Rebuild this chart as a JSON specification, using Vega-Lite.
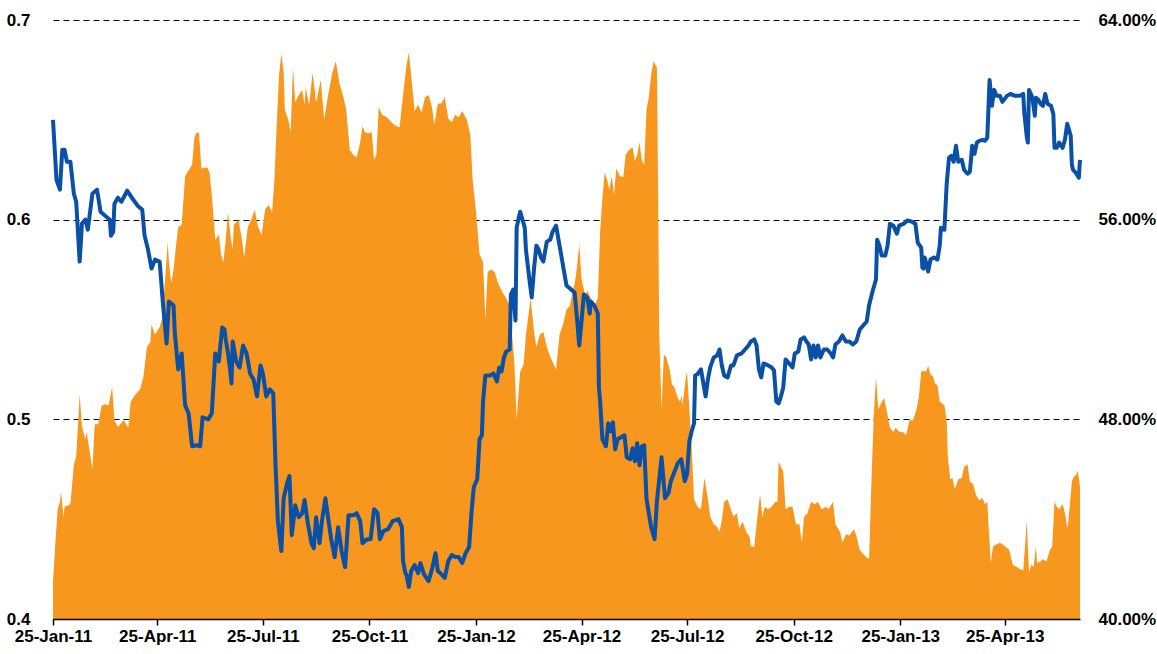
{
"$schema":"https://vega.github.io/schema/vega-lite/v6.json",
"width":1027,"height":599,
"autosize":{"type":"none"},
"padding":{"left":53,"top":20,"right":77,"bottom":35},
"background":"white",
"config":{"view":{"stroke":null},"font":"Liberation Sans","axis":{"labelFont":"Liberation Sans","labelFontSize":17,"labelFontWeight":"bold","labelColor":"#000","title":null}},
"datasets":{
"blue":[
{"date":"2011-01-25","ratio":0.650},{"date":"2011-01-28","ratio":0.620},{"date":"2011-01-31","ratio":0.615},{"date":"2011-02-02","ratio":0.635},{"date":"2011-02-04","ratio":0.635},{"date":"2011-02-06","ratio":0.629},{"date":"2011-02-09","ratio":0.629},{"date":"2011-02-12","ratio":0.613},{"date":"2011-02-14","ratio":0.609},{"date":"2011-02-17","ratio":0.579},{"date":"2011-02-19","ratio":0.598},{"date":"2011-02-22","ratio":0.600},{"date":"2011-02-24","ratio":0.595},{"date":"2011-02-28","ratio":0.613},
{"date":"2011-03-04","ratio":0.615},{"date":"2011-03-07","ratio":0.604},{"date":"2011-03-11","ratio":0.602},{"date":"2011-03-15","ratio":0.600},{"date":"2011-03-16","ratio":0.592},{"date":"2011-03-18","ratio":0.594},{"date":"2011-03-19","ratio":0.608},{"date":"2011-03-22","ratio":0.611},{"date":"2011-03-25","ratio":0.609},{"date":"2011-03-30","ratio":0.6145},
{"date":"2011-04-03","ratio":0.611},{"date":"2011-04-08","ratio":0.607},{"date":"2011-04-12","ratio":0.605},{"date":"2011-04-14","ratio":0.592},{"date":"2011-04-17","ratio":0.585},{"date":"2011-04-20","ratio":0.5755},{"date":"2011-04-23","ratio":0.580},{"date":"2011-04-27","ratio":0.579},{"date":"2011-04-30","ratio":0.557},
{"date":"2011-05-03","ratio":0.538},{"date":"2011-05-05","ratio":0.559},{"date":"2011-05-09","ratio":0.557},{"date":"2011-05-10","ratio":0.544},{"date":"2011-05-13","ratio":0.525},{"date":"2011-05-16","ratio":0.533},{"date":"2011-05-19","ratio":0.507},{"date":"2011-05-22","ratio":0.503},{"date":"2011-05-25","ratio":0.4865},{"date":"2011-05-29","ratio":0.487},
{"date":"2011-06-01","ratio":0.4865},{"date":"2011-06-03","ratio":0.501},{"date":"2011-06-08","ratio":0.500},{"date":"2011-06-11","ratio":0.503},{"date":"2011-06-14","ratio":0.533},{"date":"2011-06-17","ratio":0.529},{"date":"2011-06-20","ratio":0.546},{"date":"2011-06-22","ratio":0.545},{"date":"2011-06-23","ratio":0.540},{"date":"2011-06-25","ratio":0.533},{"date":"2011-06-27","ratio":0.524},{"date":"2011-06-28","ratio":0.518},{"date":"2011-06-29","ratio":0.539},
{"date":"2011-07-02","ratio":0.529},{"date":"2011-07-05","ratio":0.526},{"date":"2011-07-08","ratio":0.537},{"date":"2011-07-11","ratio":0.533},{"date":"2011-07-14","ratio":0.523},{"date":"2011-07-17","ratio":0.520},{"date":"2011-07-20","ratio":0.5115},{"date":"2011-07-23","ratio":0.527},{"date":"2011-07-25","ratio":0.523},{"date":"2011-07-28","ratio":0.5115},{"date":"2011-07-31","ratio":0.515},
{"date":"2011-08-03","ratio":0.513},{"date":"2011-08-05","ratio":0.477},{"date":"2011-08-07","ratio":0.449},{"date":"2011-08-10","ratio":0.434},{"date":"2011-08-12","ratio":0.4605},{"date":"2011-08-15","ratio":0.468},{"date":"2011-08-17","ratio":0.4716},{"date":"2011-08-19","ratio":0.442},{"date":"2011-08-22","ratio":0.457},{"date":"2011-08-25","ratio":0.451},{"date":"2011-08-28","ratio":0.453},{"date":"2011-08-30","ratio":0.4596},
{"date":"2011-09-02","ratio":0.4475},{"date":"2011-09-05","ratio":0.438},{"date":"2011-09-07","ratio":0.4355},{"date":"2011-09-09","ratio":0.451},{"date":"2011-09-12","ratio":0.438},{"date":"2011-09-14","ratio":0.449},{"date":"2011-09-17","ratio":0.4605},{"date":"2011-09-19","ratio":0.452},{"date":"2011-09-22","ratio":0.440},{"date":"2011-09-25","ratio":0.431},{"date":"2011-09-28","ratio":0.446},
{"date":"2011-10-01","ratio":0.434},{"date":"2011-10-04","ratio":0.426},{"date":"2011-10-07","ratio":0.452},{"date":"2011-10-11","ratio":0.452},{"date":"2011-10-14","ratio":0.453},{"date":"2011-10-17","ratio":0.449},{"date":"2011-10-19","ratio":0.438},{"date":"2011-10-23","ratio":0.440},{"date":"2011-10-26","ratio":0.440},{"date":"2011-10-29","ratio":0.455},
{"date":"2011-11-01","ratio":0.453},{"date":"2011-11-03","ratio":0.440},{"date":"2011-11-06","ratio":0.444},{"date":"2011-11-10","ratio":0.445},{"date":"2011-11-14","ratio":0.449},{"date":"2011-11-19","ratio":0.450},{"date":"2011-11-22","ratio":0.446},{"date":"2011-11-23","ratio":0.429},{"date":"2011-11-25","ratio":0.423},{"date":"2011-11-26","ratio":0.422},{"date":"2011-11-28","ratio":0.416},{"date":"2011-11-30","ratio":0.424},
{"date":"2011-12-03","ratio":0.427},{"date":"2011-12-06","ratio":0.423},{"date":"2011-12-08","ratio":0.428},{"date":"2011-12-11","ratio":0.4225},{"date":"2011-12-15","ratio":0.419},{"date":"2011-12-18","ratio":0.425},{"date":"2011-12-21","ratio":0.433},{"date":"2011-12-23","ratio":0.424},{"date":"2011-12-26","ratio":0.4225},{"date":"2011-12-29","ratio":0.4206},
{"date":"2012-01-01","ratio":0.429},{"date":"2012-01-04","ratio":0.432},{"date":"2012-01-07","ratio":0.431},{"date":"2012-01-10","ratio":0.431},{"date":"2012-01-13","ratio":0.428},{"date":"2012-01-16","ratio":0.433},{"date":"2012-01-19","ratio":0.436},{"date":"2012-01-21","ratio":0.453},{"date":"2012-01-23","ratio":0.466},{"date":"2012-01-26","ratio":0.470},{"date":"2012-01-28","ratio":0.490},{"date":"2012-01-30","ratio":0.492},{"date":"2012-01-31","ratio":0.509},
{"date":"2012-02-02","ratio":0.522},{"date":"2012-02-06","ratio":0.522},{"date":"2012-02-09","ratio":0.523},{"date":"2012-02-12","ratio":0.519},{"date":"2012-02-14","ratio":0.526},{"date":"2012-02-16","ratio":0.524},{"date":"2012-02-18","ratio":0.531},{"date":"2012-02-20","ratio":0.534},{"date":"2012-02-23","ratio":0.535},{"date":"2012-02-24","ratio":0.5625},{"date":"2012-02-26","ratio":0.565},{"date":"2012-02-28","ratio":0.5495},{"date":"2012-02-29","ratio":0.596},
{"date":"2012-03-03","ratio":0.604},{"date":"2012-03-05","ratio":0.600},{"date":"2012-03-07","ratio":0.596},{"date":"2012-03-08","ratio":0.585},{"date":"2012-03-11","ratio":0.570},{"date":"2012-03-13","ratio":0.561},{"date":"2012-03-15","ratio":0.5755},{"date":"2012-03-17","ratio":0.587},{"date":"2012-03-19","ratio":0.585},{"date":"2012-03-21","ratio":0.581},{"date":"2012-03-23","ratio":0.579},{"date":"2012-03-26","ratio":0.589},{"date":"2012-03-29","ratio":0.590},{"date":"2012-03-31","ratio":0.594},
{"date":"2012-04-03","ratio":0.597},{"date":"2012-04-06","ratio":0.587},{"date":"2012-04-09","ratio":0.577},{"date":"2012-04-12","ratio":0.567},{"date":"2012-04-16","ratio":0.565},{"date":"2012-04-19","ratio":0.5635},{"date":"2012-04-21","ratio":0.551},{"date":"2012-04-23","ratio":0.537},{"date":"2012-04-25","ratio":0.5495},{"date":"2012-04-27","ratio":0.5625},{"date":"2012-04-30","ratio":0.561},
{"date":"2012-05-02","ratio":0.553},{"date":"2012-05-03","ratio":0.559},{"date":"2012-05-06","ratio":0.557},{"date":"2012-05-09","ratio":0.553},{"date":"2012-05-10","ratio":0.516},{"date":"2012-05-11","ratio":0.509},{"date":"2012-05-13","ratio":0.490},{"date":"2012-05-16","ratio":0.4865},{"date":"2012-05-18","ratio":0.498},{"date":"2012-05-20","ratio":0.494},{"date":"2012-05-22","ratio":0.4985},{"date":"2012-05-24","ratio":0.485},{"date":"2012-05-26","ratio":0.490},{"date":"2012-05-29","ratio":0.491},
{"date":"2012-06-01","ratio":0.492},{"date":"2012-06-03","ratio":0.481},{"date":"2012-06-06","ratio":0.480},{"date":"2012-06-08","ratio":0.4855},{"date":"2012-06-10","ratio":0.479},{"date":"2012-06-12","ratio":0.488},{"date":"2012-06-14","ratio":0.477},{"date":"2012-06-16","ratio":0.4865},{"date":"2012-06-18","ratio":0.487},{"date":"2012-06-20","ratio":0.4605},{"date":"2012-06-22","ratio":0.453},{"date":"2012-06-24","ratio":0.446},{"date":"2012-06-27","ratio":0.440},{"date":"2012-06-29","ratio":0.459},
{"date":"2012-07-03","ratio":0.481},{"date":"2012-07-06","ratio":0.4605},{"date":"2012-07-09","ratio":0.463},{"date":"2012-07-11","ratio":0.469},{"date":"2012-07-14","ratio":0.4735},{"date":"2012-07-17","ratio":0.478},{"date":"2012-07-20","ratio":0.480},{"date":"2012-07-23","ratio":0.469},{"date":"2012-07-25","ratio":0.4726},{"date":"2012-07-27","ratio":0.489},{"date":"2012-07-29","ratio":0.494},{"date":"2012-07-31","ratio":0.498},
{"date":"2012-08-01","ratio":0.522},{"date":"2012-08-03","ratio":0.5226},{"date":"2012-08-06","ratio":0.525},{"date":"2012-08-10","ratio":0.5115},{"date":"2012-08-12","ratio":0.520},{"date":"2012-08-14","ratio":0.526},{"date":"2012-08-17","ratio":0.531},{"date":"2012-08-20","ratio":0.532},{"date":"2012-08-22","ratio":0.535},{"date":"2012-08-24","ratio":0.527},{"date":"2012-08-26","ratio":0.522},{"date":"2012-08-29","ratio":0.521},
{"date":"2012-09-01","ratio":0.527},{"date":"2012-09-03","ratio":0.527},{"date":"2012-09-06","ratio":0.532},{"date":"2012-09-10","ratio":0.533},{"date":"2012-09-13","ratio":0.535},{"date":"2012-09-16","ratio":0.537},{"date":"2012-09-18","ratio":0.539},{"date":"2012-09-21","ratio":0.540},{"date":"2012-09-23","ratio":0.537},{"date":"2012-09-25","ratio":0.525},{"date":"2012-09-27","ratio":0.521},{"date":"2012-09-29","ratio":0.528},
{"date":"2012-10-03","ratio":0.527},{"date":"2012-10-06","ratio":0.526},{"date":"2012-10-08","ratio":0.5245},{"date":"2012-10-10","ratio":0.509},{"date":"2012-10-12","ratio":0.508},{"date":"2012-10-14","ratio":0.5115},{"date":"2012-10-16","ratio":0.516},{"date":"2012-10-18","ratio":0.530},{"date":"2012-10-21","ratio":0.528},{"date":"2012-10-24","ratio":0.526},{"date":"2012-10-26","ratio":0.533},{"date":"2012-10-29","ratio":0.534},{"date":"2012-10-31","ratio":0.540},
{"date":"2012-11-03","ratio":0.541},{"date":"2012-11-05","ratio":0.539},{"date":"2012-11-07","ratio":0.5375},{"date":"2012-11-09","ratio":0.530},{"date":"2012-11-11","ratio":0.537},{"date":"2012-11-13","ratio":0.531},{"date":"2012-11-15","ratio":0.537},{"date":"2012-11-17","ratio":0.531},{"date":"2012-11-20","ratio":0.535},{"date":"2012-11-23","ratio":0.535},{"date":"2012-11-26","ratio":0.533},{"date":"2012-11-28","ratio":0.531},{"date":"2012-11-30","ratio":0.5375},
{"date":"2012-12-03","ratio":0.539},{"date":"2012-12-06","ratio":0.542},{"date":"2012-12-09","ratio":0.539},{"date":"2012-12-12","ratio":0.539},{"date":"2012-12-15","ratio":0.5375},{"date":"2012-12-18","ratio":0.539},{"date":"2012-12-21","ratio":0.545},{"date":"2012-12-24","ratio":0.547},{"date":"2012-12-27","ratio":0.549},{"date":"2012-12-29","ratio":0.557},
{"date":"2013-01-01","ratio":0.564},{"date":"2013-01-04","ratio":0.570},{"date":"2013-01-05","ratio":0.590},{"date":"2013-01-07","ratio":0.587},{"date":"2013-01-09","ratio":0.582},{"date":"2013-01-12","ratio":0.582},{"date":"2013-01-14","ratio":0.587},{"date":"2013-01-16","ratio":0.598},{"date":"2013-01-19","ratio":0.597},{"date":"2013-01-22","ratio":0.593},{"date":"2013-01-24","ratio":0.597},{"date":"2013-01-28","ratio":0.598},{"date":"2013-01-31","ratio":0.5996},
{"date":"2013-02-04","ratio":0.599},{"date":"2013-02-07","ratio":0.598},{"date":"2013-02-09","ratio":0.5885},{"date":"2013-02-12","ratio":0.586},{"date":"2013-02-13","ratio":0.576},{"date":"2013-02-14","ratio":0.5755},{"date":"2013-02-15","ratio":0.581},{"date":"2013-02-17","ratio":0.577},{"date":"2013-02-18","ratio":0.574},{"date":"2013-02-20","ratio":0.580},{"date":"2013-02-23","ratio":0.581},{"date":"2013-02-26","ratio":0.580},{"date":"2013-02-28","ratio":0.587},
{"date":"2013-03-01","ratio":0.596},{"date":"2013-03-04","ratio":0.595},{"date":"2013-03-06","ratio":0.618},{"date":"2013-03-08","ratio":0.631},{"date":"2013-03-10","ratio":0.632},{"date":"2013-03-12","ratio":0.629},{"date":"2013-03-14","ratio":0.637},{"date":"2013-03-16","ratio":0.629},{"date":"2013-03-19","ratio":0.630},{"date":"2013-03-21","ratio":0.625},{"date":"2013-03-24","ratio":0.623},{"date":"2013-03-26","ratio":0.624},{"date":"2013-03-28","ratio":0.637},{"date":"2013-03-30","ratio":0.633},
{"date":"2013-04-01","ratio":0.6386},{"date":"2013-04-03","ratio":0.6395},{"date":"2013-04-06","ratio":0.640},{"date":"2013-04-08","ratio":0.6395},{"date":"2013-04-10","ratio":0.641},{"date":"2013-04-12","ratio":0.670},{"date":"2013-04-14","ratio":0.657},{"date":"2013-04-16","ratio":0.665},{"date":"2013-04-18","ratio":0.662},{"date":"2013-04-21","ratio":0.662},{"date":"2013-04-23","ratio":0.659},{"date":"2013-04-27","ratio":0.662},{"date":"2013-04-30","ratio":0.663},
{"date":"2013-05-04","ratio":0.662},{"date":"2013-05-08","ratio":0.662},{"date":"2013-05-11","ratio":0.663},{"date":"2013-05-12","ratio":0.653},{"date":"2013-05-14","ratio":0.642},{"date":"2013-05-15","ratio":0.6386},{"date":"2013-05-16","ratio":0.665},{"date":"2013-05-19","ratio":0.661},{"date":"2013-05-21","ratio":0.652},{"date":"2013-05-22","ratio":0.661},{"date":"2013-05-24","ratio":0.660},{"date":"2013-05-26","ratio":0.658},{"date":"2013-05-28","ratio":0.657},{"date":"2013-05-30","ratio":0.663},
{"date":"2013-06-01","ratio":0.658},{"date":"2013-06-04","ratio":0.657},{"date":"2013-06-06","ratio":0.653},{"date":"2013-06-07","ratio":0.636},{"date":"2013-06-09","ratio":0.636},{"date":"2013-06-11","ratio":0.6386},{"date":"2013-06-14","ratio":0.636},{"date":"2013-06-16","ratio":0.640},{"date":"2013-06-18","ratio":0.648},{"date":"2013-06-21","ratio":0.642},{"date":"2013-06-22","ratio":0.6275},{"date":"2013-06-23","ratio":0.625},{"date":"2013-06-26","ratio":0.623},{"date":"2013-06-28","ratio":0.621},{"date":"2013-06-29","ratio":0.630}
],
"orange":[
{"date":"2011-01-25","pct":41.5},{"date":"2011-01-27","pct":43.0},{"date":"2011-01-29","pct":44.4},{"date":"2011-01-31","pct":44.7},{"date":"2011-02-01","pct":45.1},{"date":"2011-02-03","pct":44.1},{"date":"2011-02-04","pct":44.5},{"date":"2011-02-09","pct":44.6},{"date":"2011-02-12","pct":46.2},{"date":"2011-02-14","pct":46.5},{"date":"2011-02-17","pct":49.0},{"date":"2011-02-19","pct":47.7},{"date":"2011-02-22","pct":47.2},{"date":"2011-02-23","pct":47.5},{"date":"2011-02-25","pct":46.9},{"date":"2011-02-28","pct":46.0},
{"date":"2011-03-02","pct":47.8},{"date":"2011-03-05","pct":47.8},{"date":"2011-03-08","pct":48.55},{"date":"2011-03-11","pct":48.6},{"date":"2011-03-14","pct":48.55},{"date":"2011-03-17","pct":49.3},{"date":"2011-03-19","pct":47.96},{"date":"2011-03-22","pct":47.7},{"date":"2011-03-27","pct":47.96},{"date":"2011-03-31","pct":47.66},
{"date":"2011-04-02","pct":48.7},{"date":"2011-04-06","pct":49.0},{"date":"2011-04-10","pct":49.2},{"date":"2011-04-13","pct":49.7},{"date":"2011-04-16","pct":50.9},{"date":"2011-04-19","pct":51.1},{"date":"2011-04-20","pct":51.8},{"date":"2011-04-23","pct":51.4},{"date":"2011-04-27","pct":51.7},{"date":"2011-04-29","pct":52.0},
{"date":"2011-05-01","pct":53.15},{"date":"2011-05-04","pct":55.1},{"date":"2011-05-05","pct":54.3},{"date":"2011-05-07","pct":53.45},{"date":"2011-05-09","pct":54.0},{"date":"2011-05-11","pct":54.9},{"date":"2011-05-13","pct":55.7},{"date":"2011-05-16","pct":55.8},{"date":"2011-05-19","pct":57.75},{"date":"2011-05-22","pct":57.97},{"date":"2011-05-25","pct":58.2},{"date":"2011-05-27","pct":59.3},{"date":"2011-05-29","pct":59.5},{"date":"2011-05-31","pct":59.46},
{"date":"2011-06-02","pct":58.05},{"date":"2011-06-07","pct":58.1},{"date":"2011-06-09","pct":57.9},{"date":"2011-06-11","pct":57.0},{"date":"2011-06-14","pct":55.2},{"date":"2011-06-17","pct":55.4},{"date":"2011-06-19","pct":54.6},{"date":"2011-06-21","pct":54.3},{"date":"2011-06-23","pct":55.2},{"date":"2011-06-25","pct":56.3},{"date":"2011-06-27","pct":55.4},{"date":"2011-06-29","pct":54.8},{"date":"2011-06-30","pct":55.8},
{"date":"2011-07-04","pct":56.0},{"date":"2011-07-07","pct":55.2},{"date":"2011-07-09","pct":54.5},{"date":"2011-07-12","pct":55.7},{"date":"2011-07-15","pct":56.0},{"date":"2011-07-18","pct":56.4},{"date":"2011-07-21","pct":55.7},{"date":"2011-07-24","pct":55.4},{"date":"2011-07-27","pct":56.4},{"date":"2011-07-30","pct":56.6},
{"date":"2011-08-02","pct":56.3},{"date":"2011-08-04","pct":57.6},{"date":"2011-08-06","pct":59.8},{"date":"2011-08-08","pct":61.8},{"date":"2011-08-10","pct":62.65},{"date":"2011-08-12","pct":61.9},{"date":"2011-08-13","pct":60.4},{"date":"2011-08-16","pct":60.0},{"date":"2011-08-18","pct":59.5},{"date":"2011-08-20","pct":62.1},{"date":"2011-08-22","pct":60.7},{"date":"2011-08-25","pct":61.0},{"date":"2011-08-28","pct":61.2},{"date":"2011-08-30","pct":60.6},{"date":"2011-08-31","pct":61.3},
{"date":"2011-09-03","pct":60.6},{"date":"2011-09-06","pct":61.9},{"date":"2011-09-09","pct":60.7},{"date":"2011-09-13","pct":61.6},{"date":"2011-09-16","pct":60.0},{"date":"2011-09-19","pct":60.9},{"date":"2011-09-23","pct":61.9},{"date":"2011-09-26","pct":62.35},{"date":"2011-09-29","pct":61.5},
{"date":"2011-10-02","pct":61.0},{"date":"2011-10-05","pct":60.4},{"date":"2011-10-08","pct":58.8},{"date":"2011-10-11","pct":58.6},{"date":"2011-10-14","pct":58.5},{"date":"2011-10-17","pct":59.1},{"date":"2011-10-19","pct":59.75},{"date":"2011-10-21","pct":59.5},{"date":"2011-10-24","pct":59.46},{"date":"2011-10-27","pct":59.5},{"date":"2011-10-29","pct":58.4},{"date":"2011-10-31","pct":58.6},
{"date":"2011-11-02","pct":60.5},{"date":"2011-11-05","pct":60.2},{"date":"2011-11-09","pct":60.1},{"date":"2011-11-13","pct":59.9},{"date":"2011-11-17","pct":59.75},{"date":"2011-11-20","pct":59.7},{"date":"2011-11-23","pct":61.0},{"date":"2011-11-25","pct":61.8},{"date":"2011-11-26","pct":62.2},{"date":"2011-11-28","pct":62.7},{"date":"2011-11-30","pct":61.8},
{"date":"2011-12-03","pct":60.35},{"date":"2011-12-06","pct":60.6},{"date":"2011-12-09","pct":60.3},{"date":"2011-12-12","pct":60.9},{"date":"2011-12-15","pct":61.0},{"date":"2011-12-18","pct":60.5},{"date":"2011-12-20","pct":59.8},{"date":"2011-12-23","pct":60.65},{"date":"2011-12-26","pct":60.65},{"date":"2011-12-29","pct":60.9},
{"date":"2012-01-01","pct":60.05},{"date":"2012-01-04","pct":59.9},{"date":"2012-01-07","pct":60.2},{"date":"2012-01-10","pct":60.1},{"date":"2012-01-13","pct":60.35},{"date":"2012-01-17","pct":60.0},{"date":"2012-01-20","pct":59.4},{"date":"2012-01-22","pct":57.6},{"date":"2012-01-25","pct":56.3},{"date":"2012-01-28","pct":54.6},{"date":"2012-01-31","pct":54.3},
{"date":"2012-02-02","pct":52.0},{"date":"2012-02-04","pct":53.9},{"date":"2012-02-07","pct":54.0},{"date":"2012-02-10","pct":53.9},{"date":"2012-02-13","pct":53.45},{"date":"2012-02-16","pct":53.15},{"date":"2012-02-20","pct":52.85},{"date":"2012-02-23","pct":52.56},{"date":"2012-02-25","pct":51.4},{"date":"2012-02-27","pct":50.3},{"date":"2012-02-29","pct":48.0},
{"date":"2012-03-03","pct":49.9},{"date":"2012-03-06","pct":50.2},{"date":"2012-03-08","pct":51.4},{"date":"2012-03-12","pct":52.85},{"date":"2012-03-15","pct":51.5},{"date":"2012-03-17","pct":50.9},{"date":"2012-03-20","pct":51.4},{"date":"2012-03-23","pct":51.5},{"date":"2012-03-26","pct":50.9},{"date":"2012-03-29","pct":50.5},{"date":"2012-03-31","pct":50.3},
{"date":"2012-04-03","pct":50.0},{"date":"2012-04-06","pct":51.4},{"date":"2012-04-09","pct":51.8},{"date":"2012-04-12","pct":52.4},{"date":"2012-04-15","pct":52.56},{"date":"2012-04-18","pct":53.3},{"date":"2012-04-19","pct":53.4},{"date":"2012-04-21","pct":54.1},{"date":"2012-04-23","pct":55.0},{"date":"2012-04-25","pct":53.6},{"date":"2012-04-28","pct":53.0},{"date":"2012-04-30","pct":53.15},
{"date":"2012-05-03","pct":52.85},{"date":"2012-05-06","pct":52.56},{"date":"2012-05-09","pct":52.85},{"date":"2012-05-11","pct":55.5},{"date":"2012-05-13","pct":56.9},{"date":"2012-05-15","pct":57.9},{"date":"2012-05-17","pct":57.6},{"date":"2012-05-19","pct":57.2},{"date":"2012-05-21","pct":57.75},{"date":"2012-05-23","pct":57.0},{"date":"2012-05-25","pct":58.05},{"date":"2012-05-28","pct":57.75},{"date":"2012-05-31","pct":57.7},
{"date":"2012-06-02","pct":58.6},{"date":"2012-06-05","pct":58.8},{"date":"2012-06-08","pct":58.9},{"date":"2012-06-10","pct":58.35},{"date":"2012-06-12","pct":58.6},{"date":"2012-06-14","pct":59.1},{"date":"2012-06-16","pct":58.35},{"date":"2012-06-18","pct":58.2},{"date":"2012-06-20","pct":60.4},{"date":"2012-06-22","pct":60.9},{"date":"2012-06-24","pct":61.8},{"date":"2012-06-26","pct":62.35},{"date":"2012-06-29","pct":62.1},{"date":"2012-06-30","pct":57.3},
{"date":"2012-07-01","pct":51.4},{"date":"2012-07-03","pct":48.4},{"date":"2012-07-05","pct":50.6},{"date":"2012-07-07","pct":50.5},{"date":"2012-07-10","pct":50.0},{"date":"2012-07-12","pct":49.4},{"date":"2012-07-14","pct":49.3},{"date":"2012-07-17","pct":48.85},{"date":"2012-07-19","pct":48.7},{"date":"2012-07-20","pct":49.0},{"date":"2012-07-21","pct":48.55},{"date":"2012-07-24","pct":49.7},{"date":"2012-07-25","pct":49.9},{"date":"2012-07-27","pct":48.4},{"date":"2012-07-29","pct":46.9},{"date":"2012-07-31","pct":44.8},
{"date":"2012-08-03","pct":44.5},{"date":"2012-08-06","pct":44.4},{"date":"2012-08-09","pct":45.65},{"date":"2012-08-12","pct":44.8},{"date":"2012-08-14","pct":44.1},{"date":"2012-08-17","pct":43.8},{"date":"2012-08-20","pct":43.7},{"date":"2012-08-22","pct":43.5},{"date":"2012-08-24","pct":43.95},{"date":"2012-08-26","pct":44.7},{"date":"2012-08-29","pct":44.8},{"date":"2012-08-31","pct":44.5},
{"date":"2012-09-03","pct":44.1},{"date":"2012-09-06","pct":44.25},{"date":"2012-09-08","pct":43.65},{"date":"2012-09-11","pct":43.9},{"date":"2012-09-14","pct":43.5},{"date":"2012-09-17","pct":43.3},{"date":"2012-09-18","pct":42.9},{"date":"2012-09-21","pct":42.9},{"date":"2012-09-24","pct":44.25},{"date":"2012-09-26","pct":45.0},{"date":"2012-09-28","pct":44.1},{"date":"2012-09-30","pct":44.5},
{"date":"2012-10-03","pct":44.4},{"date":"2012-10-06","pct":44.5},{"date":"2012-10-09","pct":44.7},{"date":"2012-10-11","pct":44.7},{"date":"2012-10-12","pct":46.3},{"date":"2012-10-14","pct":46.1},{"date":"2012-10-16","pct":45.9},{"date":"2012-10-18","pct":44.4},{"date":"2012-10-21","pct":44.5},{"date":"2012-10-24","pct":44.5},{"date":"2012-10-27","pct":43.8},{"date":"2012-10-30","pct":43.8},
{"date":"2012-11-01","pct":43.06},{"date":"2012-11-03","pct":44.1},{"date":"2012-11-06","pct":44.25},{"date":"2012-11-09","pct":44.7},{"date":"2012-11-12","pct":44.6},{"date":"2012-11-15","pct":44.7},{"date":"2012-11-18","pct":44.4},{"date":"2012-11-22","pct":44.5},{"date":"2012-11-24","pct":44.4},{"date":"2012-11-28","pct":44.7},{"date":"2012-11-30","pct":43.8},
{"date":"2012-12-04","pct":43.5},{"date":"2012-12-06","pct":43.06},{"date":"2012-12-09","pct":43.4},{"date":"2012-12-12","pct":43.35},{"date":"2012-12-16","pct":43.6},{"date":"2012-12-18","pct":43.35},{"date":"2012-12-21","pct":42.76},{"date":"2012-12-24","pct":42.6},{"date":"2012-12-27","pct":42.46},{"date":"2012-12-29","pct":42.4},{"date":"2012-12-31","pct":45.4},
{"date":"2013-01-02","pct":48.1},{"date":"2013-01-04","pct":49.7},{"date":"2013-01-06","pct":48.4},{"date":"2013-01-09","pct":48.7},{"date":"2013-01-11","pct":48.85},{"date":"2013-01-13","pct":48.4},{"date":"2013-01-16","pct":47.66},{"date":"2013-01-19","pct":47.5},{"date":"2013-01-21","pct":47.66},{"date":"2013-01-24","pct":47.5},{"date":"2013-01-27","pct":47.5},{"date":"2013-01-30","pct":47.36},
{"date":"2013-02-02","pct":47.96},{"date":"2013-02-05","pct":47.96},{"date":"2013-02-08","pct":48.4},{"date":"2013-02-10","pct":48.9},{"date":"2013-02-12","pct":49.9},{"date":"2013-02-14","pct":49.96},{"date":"2013-02-16","pct":49.9},{"date":"2013-02-18","pct":50.15},{"date":"2013-02-20","pct":49.8},{"date":"2013-02-22","pct":49.74},{"date":"2013-02-24","pct":49.44},{"date":"2013-02-26","pct":49.37},{"date":"2013-02-28","pct":48.7},
{"date":"2013-03-03","pct":48.6},{"date":"2013-03-04","pct":48.55},{"date":"2013-03-06","pct":47.96},{"date":"2013-03-07","pct":46.5},{"date":"2013-03-09","pct":45.6},{"date":"2013-03-11","pct":45.65},{"date":"2013-03-13","pct":45.2},{"date":"2013-03-16","pct":45.6},{"date":"2013-03-19","pct":45.65},{"date":"2013-03-21","pct":46.1},{"date":"2013-03-24","pct":46.2},{"date":"2013-03-26","pct":45.5},{"date":"2013-03-29","pct":45.4},{"date":"2013-03-31","pct":45.0},
{"date":"2013-04-03","pct":44.76},{"date":"2013-04-06","pct":44.84},{"date":"2013-04-08","pct":44.6},{"date":"2013-04-10","pct":44.7},{"date":"2013-04-12","pct":43.06},{"date":"2013-04-13","pct":42.24},{"date":"2013-04-15","pct":42.9},{"date":"2013-04-18","pct":43.0},{"date":"2013-04-21","pct":43.06},{"date":"2013-04-23","pct":43.0},{"date":"2013-04-27","pct":42.84},{"date":"2013-04-29","pct":42.76},
{"date":"2013-05-02","pct":42.17},{"date":"2013-05-05","pct":42.1},{"date":"2013-05-08","pct":42.0},{"date":"2013-05-11","pct":41.94},{"date":"2013-05-13","pct":43.2},{"date":"2013-05-14","pct":43.95},{"date":"2013-05-16","pct":41.87},{"date":"2013-05-18","pct":42.17},{"date":"2013-05-20","pct":42.1},{"date":"2013-05-22","pct":42.9},{"date":"2013-05-23","pct":42.24},{"date":"2013-05-26","pct":42.3},{"date":"2013-05-28","pct":42.4},{"date":"2013-05-31","pct":42.3},
{"date":"2013-06-03","pct":42.76},{"date":"2013-06-05","pct":42.9},{"date":"2013-06-07","pct":44.7},{"date":"2013-06-09","pct":44.5},{"date":"2013-06-11","pct":44.4},{"date":"2013-06-14","pct":44.6},{"date":"2013-06-16","pct":44.25},{"date":"2013-06-18","pct":43.65},{"date":"2013-06-19","pct":43.95},{"date":"2013-06-22","pct":45.5},{"date":"2013-06-23","pct":45.65},{"date":"2013-06-26","pct":45.8},{"date":"2013-06-27","pct":45.95},{"date":"2013-06-29","pct":45.3}
]
},
"encoding":{
"x":{"field":"date","type":"temporal",
"scale":{"type":"utc","domain":[{"year":2011,"month":1,"date":25,"utc":true},{"year":2013,"month":6,"date":29,"utc":true}]},
"axis":{"values":[{"year":2011,"month":1,"date":25,"utc":true},{"year":2011,"month":4,"date":25,"utc":true},{"year":2011,"month":7,"date":25,"utc":true},{"year":2011,"month":10,"date":25,"utc":true},{"year":2012,"month":1,"date":25,"utc":true},{"year":2012,"month":4,"date":25,"utc":true},{"year":2012,"month":7,"date":25,"utc":true},{"year":2012,"month":10,"date":25,"utc":true},{"year":2013,"month":1,"date":25,"utc":true},{"year":2013,"month":4,"date":25,"utc":true}],
"format":"%d-%b-%y","grid":false,"zindex":1,"domainColor":"#000","domainWidth":1.5,"tickColor":"#000","tickWidth":1.5,"tickSize":6,"labelPadding":3,"labelFlush":false,"labelOverlap":false}}
},
"layer":[
{"data":{"name":"orange"},
"mark":{"type":"area","color":"#F7971E","interpolate":"linear"},
"encoding":{
"y":{"field":"pct","type":"quantitative","scale":{"domain":[40,64],"zero":false,"nice":false},
"axis":{"orient":"right","values":[40,48,56,64],"labelExpr":"format(datum.value, '.2f') + '%'","grid":false,"ticks":false,"domain":false,"labelPadding":18,"labelAlign":"left"}},
"y2":{"datum":40}}},
{"data":{"name":"blue"},
"mark":{"type":"line","color":"#0A50A6","strokeWidth":4,"strokeJoin":"round","interpolate":"linear"},
"encoding":{
"y":{"field":"ratio","type":"quantitative","scale":{"domain":[0.4,0.7],"zero":false,"nice":false},
"axis":{"orient":"left","values":[0.4,0.5,0.6,0.7],"format":".1f","grid":true,"gridDash":[6,4],"gridColor":"#000","gridWidth":1,"ticks":false,"domain":false,"labelPadding":23}}}}
],
"resolve":{"scale":{"y":"independent"}}
}
